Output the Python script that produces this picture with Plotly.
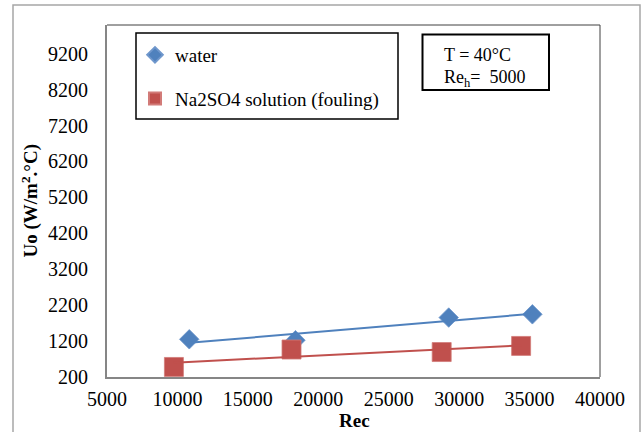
import numpy as np
import plotly.graph_objects as go

# ---- data ----
rec_water = [10840, 18380, 29260, 35200]
uo_water = [1250, 1225, 1855, 1945]

rec_na2so4 = [9750, 18100, 28760, 34400]
uo_na2so4 = [480, 965, 895, 1065]

x_ticks = [5000, 10000, 15000, 20000, 25000, 30000, 35000, 40000]
y_ticks = [200, 1200, 2200, 3200, 4200, 5200, 6200, 7200, 8200, 9200]

BLUE = "#4F81BD"
RED = "#C0504D"
FONT = "Liberation Serif"

W, H = 642, 432
ML, MR, MT, MB = 107, 42, 25, 55
PW, PH = W - ML - MR, H - MT - MB


def px(x):
    return (x - ML) / PW


def py(y):
    return (H - MB - y) / PH


def trend(xs, ys):
    k, b = np.polyfit(xs, ys, 1)
    xx = np.array([min(xs), max(xs)])
    return xx, k * xx + b


fig = go.Figure()

fig.add_trace(go.Scatter(
    x=rec_water, y=uo_water, mode="markers", name="water",
    legendgroup="a",
    marker=dict(symbol="diamond", size=15, color=BLUE,
                line=dict(color="#6F97CC", width=0.8)),
))
fig.add_trace(go.Scatter(
    x=rec_na2so4, y=uo_na2so4, mode="markers", name="Na2SO4 solution (fouling)",
    legendgroup="b",
    marker=dict(symbol="square", size=19, color=RED,
                line=dict(color="#D27B78", width=0.8)),
))

tx, ty = trend(rec_water, uo_water)
fig.add_trace(go.Scatter(x=tx, y=ty, mode="lines", showlegend=False,
                         line=dict(color=BLUE, width=2), hoverinfo="skip"))
tx, ty = trend(rec_na2so4, uo_na2so4)
fig.add_trace(go.Scatter(x=tx, y=ty, mode="lines", showlegend=False,
                         line=dict(color=RED, width=2), hoverinfo="skip"))

axis_common = dict(
    showgrid=False, zeroline=False, ticks="", showline=True,
    linecolor="#868686", linewidth=2, automargin=False,
    tickfont=dict(family=FONT, size=20, color="black"),
)

fig.update_layout(
    width=W, height=H,
    margin=dict(l=ML, r=MR, t=MT, b=MB, autoexpand=False),
    paper_bgcolor="white", plot_bgcolor="white",
    xaxis=dict(range=[5000, 40000], tickvals=x_ticks,
               ticktext=[str(v) for v in x_ticks], ticklabelstandoff=3,
               **axis_common),
    yaxis=dict(range=[200, 10000], tickvals=y_ticks,
               ticktext=[str(v) for v in y_ticks], ticklabelstandoff=13,
               **axis_common),
    showlegend=True,
    legend=dict(
        x=px(135), y=py(36), xanchor="left", yanchor="top",
        bgcolor="rgba(0,0,0,0)", borderwidth=0,
        font=dict(family=FONT, size=19, color="black"),
        itemsizing="constant", tracegroupgap=16, traceorder="grouped",
    ),
    shapes=[
        # outer chart frame
        dict(type="rect", xref="paper", yref="paper",
             x0=px(13), x1=px(640), y0=py(445), y1=py(5),
             line=dict(color="#A6A6A6", width=1.5)),
        # plot area top / right border
        dict(type="line", xref="paper", yref="paper",
             x0=0, x1=1, y0=1, y1=1, line=dict(color="#404040", width=1)),
        dict(type="line", xref="paper", yref="paper",
             x0=1, x1=1, y0=0, y1=1, line=dict(color="#404040", width=1)),
        # legend box
        dict(type="rect", xref="paper", yref="paper",
             x0=px(136), x1=px(398), y0=py(119), y1=py(33),
             line=dict(color="black", width=1.5)),
        # condition box
        dict(type="rect", xref="paper", yref="paper",
             x0=px(422.5), x1=px(549), y0=py(90), y1=py(34.5),
             line=dict(color="black", width=2)),
    ],
    annotations=[
        dict(text="<b>Rec</b>", xref="paper", yref="paper",
             x=px(354), y=py(420), xanchor="center", yanchor="middle",
             showarrow=False,
             font=dict(family=FONT, size=19, color="black")),
        dict(text="<b>Uo (W/m<sup>2</sup>.°C)</b>", xref="paper", yref="paper",
             x=px(29.5), y=py(201), xanchor="center", yanchor="middle",
             showarrow=False, textangle=-90,
             font=dict(family=FONT, size=19, color="black")),
        dict(text="T = 40°C", xref="paper", yref="paper",
             x=px(441.5), y=py(55), xanchor="left", yanchor="middle",
             showarrow=False,
             font=dict(family=FONT, size=18, color="black")),
        dict(text="Re<sub>h</sub>=\u00a0 5000", xref="paper", yref="paper",
             x=px(441.5), y=py(78.5), xanchor="left", yanchor="middle",
             showarrow=False,
             font=dict(family=FONT, size=18, color="black")),
    ],
)

fig.write_html("out.html")
